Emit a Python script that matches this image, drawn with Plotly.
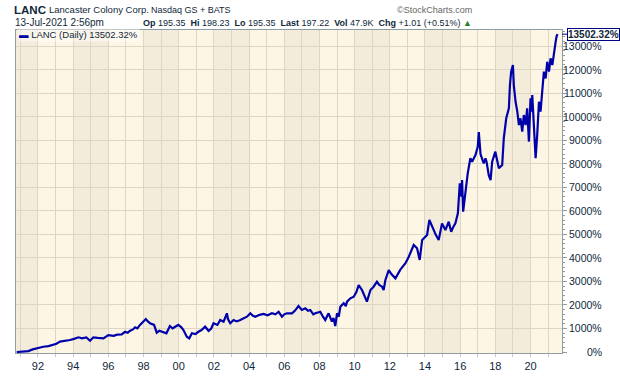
import plotly.graph_objects as go

# ---- data (decimal year, % change) ----
years = [1990.79, 1991.1, 1991.45, 1991.7, 1991.93, 1992.1, 1992.3, 1992.6, 1992.87, 1993.05,
         1993.25, 1993.5, 1993.82, 1994.05, 1994.3, 1994.5, 1994.75, 1994.96, 1995.15, 1995.4,
         1995.72, 1996.0, 1996.3, 1996.5, 1996.76, 1996.95, 1997.1, 1997.24, 1997.4, 1997.52,
         1997.65, 1997.8, 1997.95, 1998.13, 1998.25, 1998.37, 1998.6, 1998.75, 1998.9, 1999.04,
         1999.3, 1999.5, 1999.65, 1999.8, 1999.98, 2000.15, 2000.27, 2000.46, 2000.6, 2000.75,
         2000.95, 2001.12, 2001.3, 2001.5, 2001.7, 2001.85, 2001.98, 2002.2, 2002.36, 2002.55,
         2002.74, 2002.8, 2002.93, 2003.12, 2003.3, 2003.5, 2003.7, 2003.88, 2004.07, 2004.2,
         2004.35, 2004.6, 2004.82, 2005.05, 2005.3, 2005.5, 2005.68, 2005.87, 2006.0, 2006.15,
         2006.44, 2006.6, 2006.81, 2007.0, 2007.2, 2007.35, 2007.48, 2007.65, 2007.77, 2008.05,
         2008.2, 2008.33, 2008.52, 2008.6, 2008.71, 2008.8, 2008.9, 2009.0, 2009.1, 2009.19,
         2009.38, 2009.5, 2009.57, 2009.76, 2009.95, 2010.1, 2010.23, 2010.42, 2010.51, 2010.7,
         2010.9, 2011.08, 2011.27, 2011.4, 2011.56, 2011.65, 2011.75, 2011.94, 2012.1, 2012.32,
         2012.6, 2012.89, 2013.08, 2013.2, 2013.36, 2013.55, 2013.7, 2013.84, 2014.12, 2014.25,
         2014.4, 2014.5, 2014.6, 2014.78, 2014.97, 2015.16, 2015.35, 2015.49, 2015.6, 2015.73,
         2015.87, 2015.98, 2016.07, 2016.11, 2016.17, 2016.3, 2016.43, 2016.58, 2016.68, 2016.87,
         2017.0, 2017.06, 2017.16, 2017.34, 2017.44, 2017.5, 2017.63, 2017.73, 2017.82, 2018.0,
         2018.2, 2018.39, 2018.48, 2018.62, 2018.77, 2018.83, 2018.9, 2019.0, 2019.05, 2019.15,
         2019.25, 2019.34, 2019.43, 2019.53, 2019.62, 2019.72, 2019.81, 2019.91, 2020.0, 2020.06,
         2020.1, 2020.19, 2020.29, 2020.38, 2020.48, 2020.57, 2020.67, 2020.76, 2020.86, 2020.95,
         2021.05, 2021.14, 2021.24, 2021.33, 2021.43, 2021.48, 2021.53]
pct = [0, 20, 40, 110, 155, 170, 225, 250, 300, 350,
       440, 460, 510, 560, 625, 580, 620, 480, 625, 600,
       580, 720, 690, 740, 750, 860, 820, 905, 960, 1050,
       1000, 1150, 1250, 1400, 1300, 1220, 1150, 820, 900, 860,
       795, 1105, 1000, 1075, 1150, 1050, 935, 650, 580, 795,
       760, 860, 935, 1075, 900, 1000, 1220, 1150, 1360, 1290,
       1645, 1400, 1220, 1360, 1300, 1360, 1420, 1500, 1645, 1550,
       1500, 1580, 1615, 1560, 1645, 1600, 1710, 1500, 1600, 1645,
       1645, 1750, 1955, 1785, 1855, 1750, 1785, 1600, 1645, 1710,
       1500, 1360, 1645, 1500, 1290, 1450, 1105, 1645, 1500, 1925,
       2070, 1950, 2140, 2280, 2350, 2550, 2845, 2635, 2495, 2140,
       2635, 2775, 2985, 2850, 2775, 2635, 3060, 3480, 3300, 3130,
       3500, 3770, 4050, 4300, 4545, 4405, 3910, 4760, 4970, 5610,
       5300, 5180, 5000, 4760, 5465, 5180, 5535, 5110, 5300, 5465,
       5890, 7165, 6600, 7305, 5960, 6880, 7590, 8230, 8085, 8370,
       8720, 9340, 8400, 8015, 8230, 8085, 7500, 7305, 8085, 8510,
       7805, 7945, 9080, 9930, 10350, 11340, 11910, 12190, 11340, 10630,
       10210, 9640, 9930, 9360, 10070, 9640, 10350, 8940, 10775, 10210,
       10920, 9640, 8230, 9220, 10630, 10210, 11060, 11910, 11625, 12330,
       11910, 12475, 12190, 12760, 13185, 13400, 13502.32]

x_tick_years = list(range(1991, 2022))
x_tick_labels = ["92", "94", "96", "98", "00", "02", "04", "06", "08", "10",
                 "12", "14", "16", "18", "20"]
y_tick_values = list(range(0, 13001, 1000))
last_value = 13502.32

# ---- layout geometry ----
W, H = 620, 376
L, R, T, B = 16, 58, 30, 23
pw, ph = W - L - R, H - T - B

def pxx(x):
    return (x - L) / pw

def pxy(y):
    return (H - B - y) / ph

LINE = "#0000AA"
TXT = "#10283a"
FONT = "Liberation Sans, Arial, sans-serif"

label_map = {int("19" + s) if int(s) > 50 else int("20" + s): s for s in x_tick_labels}
ticktext = [label_map.get(y, "") for y in x_tick_years]

fig = go.Figure()
fig.add_trace(go.Scatter(x=years, y=pct, mode="lines",
                         line=dict(color=LINE, width=2.2), hoverinfo="skip",
                         showlegend=False))

# alternating 2-year background bands
shapes = []
for y0 in range(1990, 2022, 4):
    shapes.append(dict(type="rect", xref="x", yref="paper", x0=y0, x1=y0 + 2,
                       y0=0, y1=1, fillcolor="#F4ECDB", line=dict(width=0),
                       layer="below"))

ann = []
# header
ann.append(dict(text="<b>LANC</b>", x=pxx(12), y=pxy(10), xanchor="left", yanchor="middle",
                font=dict(size=11.5, family=FONT, color=TXT)))
ann.append(dict(text="Lancaster Colony Corp.", x=pxx(47), y=pxy(10), xanchor="left", yanchor="middle",
                font=dict(size=9.5, family=FONT, color=TXT)))
ann.append(dict(text="Nasdaq GS + BATS", x=pxx(149), y=pxy(10.5), xanchor="left", yanchor="middle",
                font=dict(size=9, family=FONT, color=TXT)))
ann.append(dict(text="13-Jul-2021 2:56pm", x=pxx(13), y=pxy(23), xanchor="left", yanchor="middle",
                font=dict(size=10, family=FONT, color=TXT)))
ann.append(dict(text="<b>Op</b> 195.35  <b>Hi</b> 198.23  <b>Lo</b> 195.35  <b>Last</b> 197.22  "
                     "<b>Vol</b> 47.9K  <b>Chg</b> +1.01 (+0.51%) <span style='color:#2e7d32'>▲</span>",
                x=pxx(474), y=pxy(23), xanchor="right", yanchor="middle",
                font=dict(size=9, family=FONT, color=TXT)))
ann.append(dict(text="©StockCharts.com", x=pxx(474), y=pxy(10.5), xanchor="right", yanchor="middle",
                font=dict(size=9, family=FONT, color="#666666")))
# legend
ann.append(dict(text="<span style='color:#0000AA'><b>▬</b></span> LANC (Daily) 13502.32%",
                x=pxx(17), y=pxy(35), xanchor="left", yanchor="middle",
                bgcolor="rgba(255,255,255,0.45)",
                font=dict(size=9.5, family=FONT, color=TXT)))
# y tick labels (right aligned)
for v in y_tick_values:
    ann.append(dict(text=f"{v}%", xref="paper", yref="y", x=pxx(604), y=v,
                    xanchor="right", yanchor="middle",
                    font=dict(size=10.5, family=FONT, color=TXT)))
# last value marker
ann.append(dict(text=f"<b>{last_value:.2f}%</b>", xref="paper", yref="y", x=1.0, y=last_value,
                showarrow=True, arrowhead=0, arrowwidth=1, arrowcolor="#000080",
                ax=31, ay=0, xanchor="center", yanchor="middle",
                bordercolor="#000080", borderwidth=1, borderpad=0, bgcolor="white",
                font=dict(size=10, family=FONT, color=TXT)))

for a in ann:
    a.setdefault("xref", "paper")
    a.setdefault("yref", "paper")
    a.setdefault("showarrow", False)

fig.update_layout(
    width=W, height=H, margin=dict(l=L, r=R, t=T, b=B, pad=0, autoexpand=False),
    paper_bgcolor="white", plot_bgcolor="#FDF6E4",
    shapes=shapes, annotations=ann, showlegend=False,
    xaxis=dict(range=[1990.75, 2021.79], tickmode="array", tickvals=x_tick_years,
               ticktext=ticktext, showgrid=True, gridcolor="#DED6C4", gridwidth=1,
               zeroline=False, showline=True, linecolor="#8E9CA3", linewidth=1, mirror=True,
               ticks="outside", ticklen=3, tickcolor="#C4CACD", ticklabelstandoff=0,
               automargin=False,
               tickfont=dict(size=11, family=FONT, color=TXT)),
    yaxis=dict(range=[-42, 13680], side="right", tickmode="linear", tick0=0, dtick=1000,
               showticklabels=False, showgrid=True, gridcolor="#DED6C4", gridwidth=1,
               zeroline=False, showline=True, linecolor="#8E9CA3", linewidth=1, mirror=True,
               ticks="outside", ticklen=4, tickcolor="#8E9CA3", automargin=False,
               minor=dict(dtick=200, ticks="outside", ticklen=2, tickcolor="#8E9CA3",
                          showgrid=False)),
)

fig.write_html("out.html", config={"displayModeBar": False},
               post_script="document.body.style.margin='0px';")
